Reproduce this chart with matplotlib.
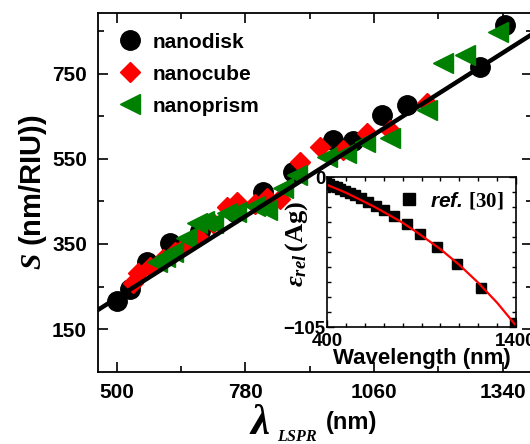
import matplotlib
matplotlib.use("Agg")
import matplotlib.pyplot as plt
import numpy as np

plt.rcParams['font.family'] = ['Liberation Sans', 'DejaVu Sans']
plt.rcParams['font.weight'] = 'bold'
plt.rcParams['mathtext.fontset'] = 'custom'
plt.rcParams['mathtext.it'] = 'Liberation Serif:italic'
plt.rcParams['mathtext.rm'] = 'Liberation Serif'
plt.rcParams['mathtext.bf'] = 'Liberation Serif:bold'

# main panel: sensitivity vs LSPR wavelength
disk_x = [500, 528, 565, 615, 681, 757, 818, 884, 970, 1014, 1077, 1132, 1291, 1345]
disk_y = [216, 244, 308, 352, 380, 425, 472, 519, 595, 592, 654, 677, 766, 865]

cube_x = [535, 546, 572, 600, 626, 652, 677, 710, 740, 761, 800, 827, 855, 899, 942, 992, 1045, 1095, 1175]
cube_y = [258, 282, 296, 315, 330, 350, 366, 400, 437, 449, 445, 458, 455, 543, 578, 570, 611, 618, 682]

prism_x = [587, 605, 622, 650, 674, 690, 709, 740, 760, 800, 827, 862, 892, 958, 1000, 1040, 1095, 1175, 1210, 1258, 1330]
prism_y = [308, 320, 330, 365, 399, 405, 400, 423, 425, 440, 430, 482, 512, 555, 565, 590, 599, 665, 776, 795, 849]

fit_x = [459, 1404]
fit_y = [195, 843]

# inset: permittivity of Ag
ref_wl = [397, 413, 430, 451, 471, 496, 521, 549, 582, 617, 659, 704, 756, 821, 892, 984, 1088, 1216, 1393]
ref_eps = [-4.3, -5.2, -6.1, -7.1, -8.2, -9.6, -11.0, -12.9, -14.9, -17.2, -20.1, -23.4, -27.5, -32.8,
           -39.8, -48.9, -60.8, -77.9, -102.0]
curve_wl = [400, 450, 500, 550, 600, 650, 700, 750, 800, 850, 900, 1000, 1100, 1200, 1300, 1400]
curve_eps = [-5.5, -8.2, -11.0, -14.2, -17.5, -20.8, -24.5, -28.2, -32.0, -36.4, -41.0, -50.5, -61.5, -74.0, -88.0, -104.0]

W, H = 530, 444
fig = plt.figure(figsize=(W / 100, H / 100), dpi=100)
ax = fig.add_axes([98 / W, 1 - 372 / H, (532 - 98) / W, (372 - 13) / H])

ax.plot(disk_x, disk_y, 'o', color='black', ms=14, ls='none', label='nanodisk')
ax.plot(cube_x, cube_y, 'D', color='red', ms=10.5, ls='none', label='nanocube')
ax.plot(prism_x, prism_y, '<', color='green', ms=15, ls='none', label='nanoprism')
ax.plot(fit_x, fit_y, '-', color='black', lw=3.2)

ax.set_xlim(459, 1404)
ax.set_ylim(49, 893)
ax.set_xticks([500, 780, 1060, 1340])
ax.set_xticks([640, 920, 1200], minor=True)
ax.set_yticks([150, 350, 550, 750])
ax.set_yticks([250, 450, 650, 850], minor=True)
ax.tick_params(which='both', direction='in', top=True, right=True, labelsize=15, width=1.2)
ax.tick_params(which='major', length=7)
ax.tick_params(which='minor', length=4)
ax.tick_params(axis='x', which='major', pad=8)
ax.tick_params(axis='y', which='major', pad=8)
for s in ax.spines.values():
    s.set_linewidth(1.3)

ax.set_ylabel(r'$\mathit{S}$ (nm/RIU))', fontsize=21, fontweight='bold', labelpad=2)

leg = ax.legend(loc='upper left', frameon=False, fontsize=15, handletextpad=0.45,
                borderaxespad=0.55, labelspacing=0.62, handlelength=1.2)
for t in leg.get_texts():
    t.set_fontweight('bold')

# x label pieces: big lambda, subscript, unit
fig.text(249 / W, 1 - 434 / H, r'$\mathit{\lambda}$', fontsize=31, va='baseline', ha='left')
fig.text(277 / W, 1 - 441 / H, r'$\mathit{LSPR}$', fontsize=11.5, va='baseline', ha='left')
fig.text(326 / W, 1 - 429 / H, '(nm)', fontsize=17, fontweight='bold', va='baseline', ha='left')

# inset
ax2 = fig.add_axes([327 / W, 1 - 327 / H, 189 / W, 150 / H])
ax2.plot(ref_wl, ref_eps, 's', color='black', ms=7, ls='none', label=r'ref. $\mathbf{[30]}$')
ax2.plot(curve_wl, curve_eps, '-', color='red', lw=1.6)
ax2.set_xlim(400, 1400)
ax2.set_ylim(-105, 0)
ax2.set_xticks([400, 1400])
ax2.set_xticks(np.arange(500, 1400, 100), minor=True)
ax2.set_yticks([-105, 0])
ax2.set_yticks(np.arange(-94.5, 0, 10.5), minor=True)
ax2.tick_params(which='both', direction='in', top=True, right=True, labelsize=13.5, width=1.0, pad=1)
ax2.tick_params(axis='x', which='major', pad=4)
ax2.tick_params(which='major', length=5)
ax2.tick_params(which='minor', length=3)
for s in ax2.spines.values():
    s.set_linewidth(1.2)
ax2.set_xlabel('Wavelength (nm)', fontsize=16, fontweight='bold', labelpad=-1)
ax2.set_ylabel(r'$\mathit{\varepsilon}_{\mathit{rel}}\,\mathrm{(Ag)}$', fontsize=19)
ax2.yaxis.set_label_coords(-0.09, 0.55)
leg2 = ax2.legend(loc='upper right', frameon=False, handlelength=0.8, handletextpad=0.6,
                  markerscale=1.3, borderaxespad=0.2,
                  prop=dict(family='Liberation Sans', weight='bold', style='italic', size=15))

fig.savefig('out.png', dpi=100)
